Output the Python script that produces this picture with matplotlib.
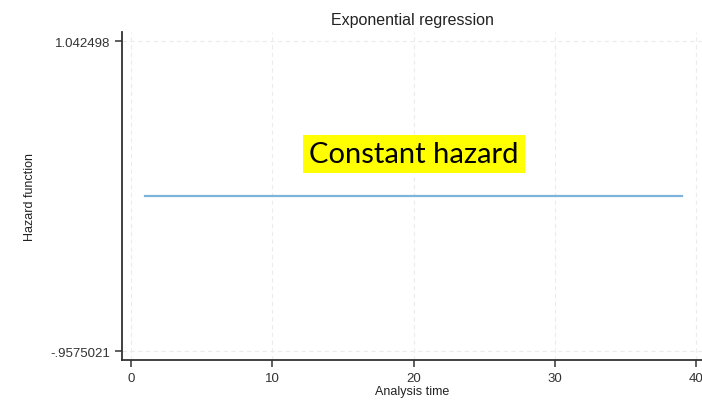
import numpy as np
import matplotlib.pyplot as plt

plt.rcParams["font.family"] = ["Liberation Sans", "DejaVu Sans"]

# fitted exponential model: constant hazard over analysis time
t_start, t_end = 1.0, 39.0
hazard = 0.0424979
y_ticks = [-0.9575021, 1.042498]
y_tick_labels = ["-.9575021", "1.042498"]
x_ticks = [0, 10, 20, 30, 40]

fig = plt.figure(figsize=(7.02, 4.06), dpi=100)
ax = fig.add_axes([122 / 702, 1 - 361 / 406, 1 - 122 / 702, (361 - 33) / 406])

t = np.array([t_start, t_end])
ax.plot(t, np.full_like(t, hazard), color="#7db4dc", linewidth=1.6)

ax.set_xlim(-0.64, 40.4)
ax.set_ylim(-1.0155, 1.1006)
ax.set_xticks(x_ticks)
ax.set_yticks(y_ticks)
ax.set_yticklabels(y_tick_labels)

ax.grid(True, color="#ececec", linestyle=(0, (4, 3)), linewidth=0.8)
for s in ["top", "right"]:
    ax.spines[s].set_visible(False)
for s in ["left", "bottom"]:
    ax.spines[s].set_color("#333333")
    ax.spines[s].set_linewidth(1.3)
ax.tick_params(colors="#333333", labelcolor="#333333", labelsize=9.5, length=5, width=1.1)

ax.set_title("Exponential regression", fontsize=11.5, color="#222222", pad=6)
ax.set_xlabel("Analysis time", fontsize=9, color="#222222", labelpad=1)
ax.set_ylabel("Hazard function", fontsize=9, color="#222222", labelpad=10)

ax.text(20, 0.313, "Constant hazard", fontsize=21, family="Lato", color="black",
        ha="center", va="center",
        bbox=dict(facecolor="#ffff00", edgecolor="none", boxstyle="square,pad=0.22"))

fig.savefig("out.png", dpi=100)
